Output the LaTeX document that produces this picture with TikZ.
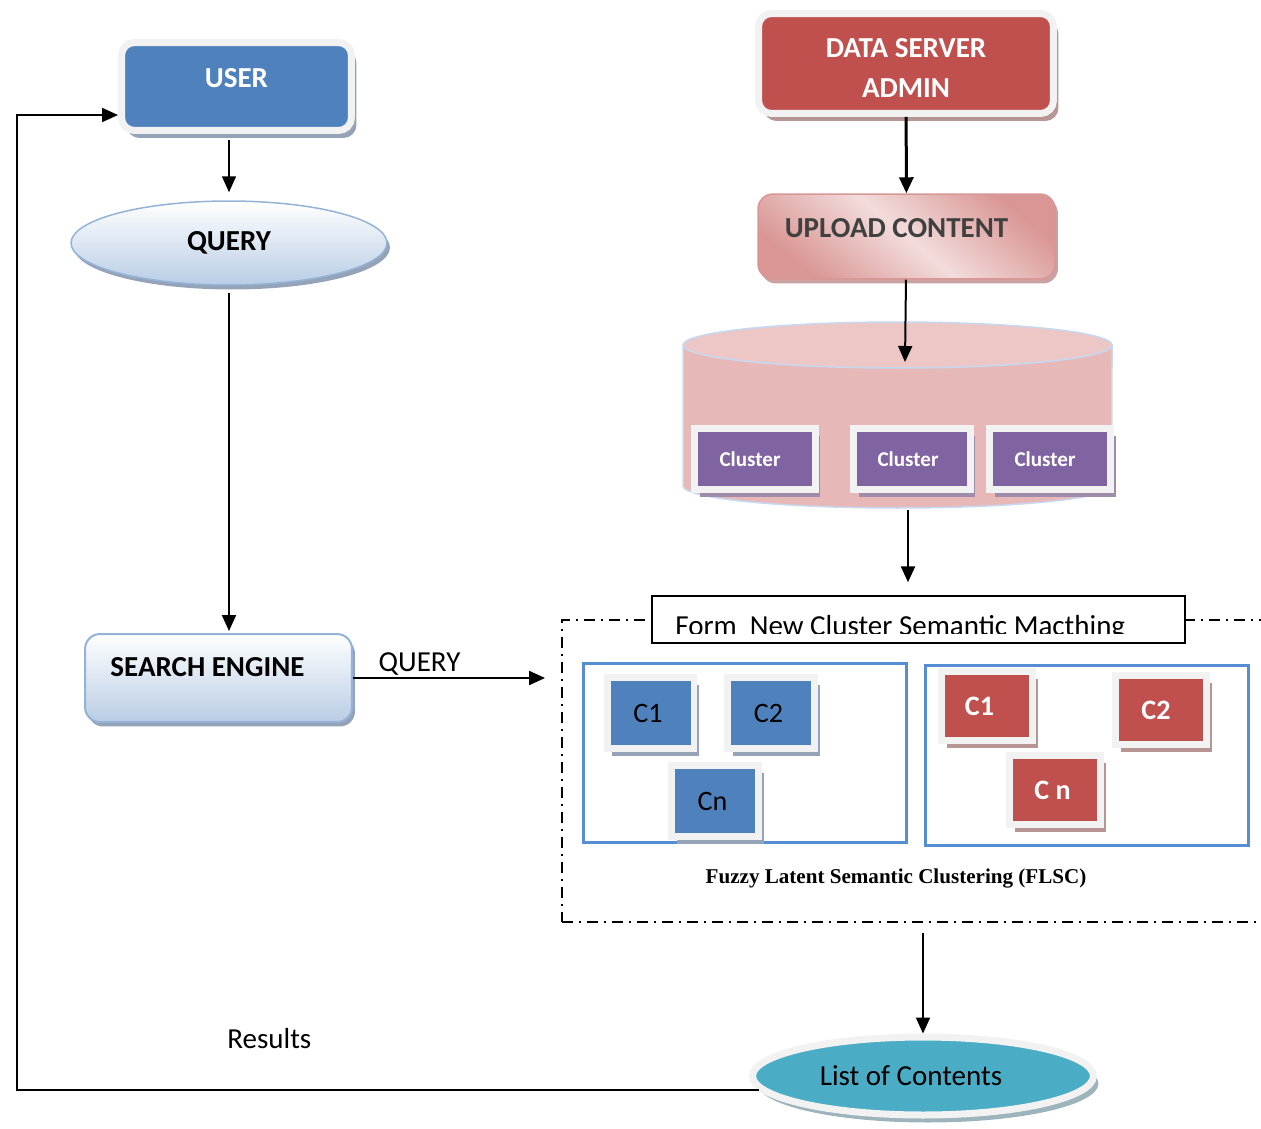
\documentclass[tikz,border=0pt]{standalone}
\usepackage{fontspec}
\setmainfont{Carlito}
\newfontfamily\flscfont{Liberation Serif}
\usetikzlibrary{arrows.meta,shapes.geometric,shadows}
\definecolor{userblue}{HTML}{4F81BD}
\definecolor{framegray}{HTML}{F2F2F2}
\definecolor{blueshadow}{HTML}{95A3B8}
\definecolor{adminred}{HTML}{C0504D}
\definecolor{redshadow}{HTML}{B89595}
\definecolor{softblue}{HTML}{95B3D7}
\definecolor{paleblue}{HTML}{B9CDE5}
\definecolor{listteal}{HTML}{4BACC6}
\definecolor{listshadow}{HTML}{9DB4BD}
\definecolor{clusterpurple}{HTML}{8064A2}
\definecolor{purpleshadow}{HTML}{9E8CAA}
\definecolor{cylside}{HTML}{E6B9B8}
\definecolor{cyltop}{HTML}{ECC7C6}
\definecolor{cylline}{HTML}{C6D9F1}
\definecolor{uploaddark}{HTML}{D99694}
\definecolor{uploadlight}{HTML}{F2DCDB}
\definecolor{uploadshadow}{HTML}{C9A2A1}
\definecolor{groupblue}{HTML}{558ED5}
\definecolor{darktext}{HTML}{404040}
\begin{document}
\begin{tikzpicture}[x=0.02cm,y=-0.02cm,
  font=\fontsize{16.5}{20}\selectfont,
  arr/.style={-{Triangle[length=0.32cm,width=0.28cm]},line width=0.04cm},
  framed/.style={draw=framegray,line width=0.14cm},
  shadowed/.style={drop shadow={shadow xshift=0.1cm,shadow yshift=-0.15cm,fill=#1,opacity=1}},
  softshadow/.style={drop shadow={shadow xshift=0.06cm,shadow yshift=-0.09cm,fill=#1,opacity=1}},
  boldtext/.style={font=\fontsize{16.5}{20}\selectfont\bfseries},
  userbox/.style={framed,shadowed=blueshadow,fill=userblue,rounded corners=0.26cm,text=white,boldtext,minimum width=4.6cm,minimum height=1.76cm,text height=0.37cm,text depth=0.32cm},
  adminbox/.style={framed,shadowed=redshadow,fill=adminred,rounded corners=0.26cm,text=white,font=\fontsize{16.5}{22.8}\selectfont\bfseries,align=center,minimum width=5.9cm,minimum height=2cm},
  queryoval/.style={ellipse,draw=softblue,line width=0.03cm,top color=white,bottom color=paleblue,softshadow=blueshadow,boldtext,minimum width=6.32cm,minimum height=1.68cm},
  enginebox/.style={rounded corners=0.3cm,draw=softblue,line width=0.04cm,top color=white,bottom color=paleblue,softshadow=blueshadow,boldtext,minimum width=5.34cm,minimum height=1.76cm,text height=0.37cm,text depth=0.44cm},
  uploadbox/.style={rounded corners=0.3cm,draw=uploaddark,line width=0.03cm,left color=uploaddark,right color=uploaddark,middle color=uploadlight,shading angle=-40,softshadow=uploadshadow,boldtext,text=darktext,minimum width=5.94cm,minimum height=1.7cm,text height=0.37cm,text depth=0.32cm},
  clusterbox/.style={framed,shadowed=purpleshadow,fill=clusterpurple,text=white,font=\fontsize{12}{14}\selectfont\bfseries,minimum width=2.42cm,minimum height=1.22cm},
  bluecell/.style={framed,shadowed=blueshadow,fill=userblue,text=black,font=\fontsize{16}{19}\selectfont,minimum width=1.74cm,minimum height=1.42cm},
  redcell/.style={framed,shadowed=redshadow,fill=adminred,text=white,font=\fontsize{16}{19}\selectfont\bfseries,minimum width=1.82cm,minimum height=1.38cm},
  groupbox/.style={draw=groupblue,line width=0.06cm,minimum width=6.48cm,minimum height=3.6cm},
  dashframe/.style={draw,line width=0.04cm,dash pattern=on 0.22cm off 0.12cm on 0.04cm off 0.12cm,minimum width=14.06cm,minimum height=6.04cm},
  titlebox/.style={draw,line width=0.03cm,fill=white,minimum width=10.66cm,minimum height=0.94cm},
  listoval/.style={ellipse,framed,shadowed=listshadow,fill=listteal,minimum width=6.82cm,minimum height=1.56cm}]
\useasboundingbox (0,0) rectangle (1261,1129);
\node[userbox] (user) at (236.5,86.5) {USER};
\node[queryoval] (query) at (229,243) {QUERY};
\node[enginebox] (engine) at (218.5,678) {SEARCH ENGINE\hspace*{0.44cm}};
\node[adminbox] (admin) at (906,63.5) {\rule{0pt}{0.57cm}DATA SERVER\\ADMIN};
\node[uploadbox] (upload) at (906.5,236.5) {UPLOAD CONTENT\hspace*{0.4cm}};
\draw[draw=cylline,fill=cylside,line width=0.03cm] (683,345) -- (683,486) arc[start angle=180,end angle=360,x radius=4.29cm,y radius=0.44cm] -- (1112,345) -- cycle;
\draw[draw=cylline,fill=cyltop,line width=0.03cm] (897.5,345) ellipse[x radius=4.29cm,y radius=0.46cm];
\coordinate (dbin) at (905,362);
\coordinate (dbout) at (908,510);
\node[clusterbox] (clustera) at (755,459) {Cluster\hspace*{0.2cm}};
\node[clusterbox,minimum width=2.34cm] (clusterb) at (912,459) {Cluster\hspace*{0.16cm}};
\node[clusterbox] (clusterc) at (1050,459) {Cluster\hspace*{0.2cm}};
\node[dashframe] (flsc) at (913.5,771) {};
\node[titlebox] (form) at (918.5,619.5) {};
\begin{scope}
\clip (form.north west) rectangle (1185,633);
\node[anchor=base west,inner sep=0pt] (formtext) at (675,635) {Form\ \ New Cluster Semantic Macthing};
\end{scope}
\node[groupbox] (blueset) at (745,753) {};
\node[groupbox] (redset) at (1087,755.5) {};
\node[bluecell] (bluea) at (650.5,713) {C1\hspace*{0.1cm}};
\node[bluecell] (blueb) at (771,713) {C2\hspace*{0.1cm}};
\node[bluecell] (bluen) at (715,801) {Cn\hspace*{0.1cm}};
\node[redcell] (reda) at (987,706) {C1\hspace*{0.3cm}};
\node[redcell] (redb) at (1161,710) {C2\hspace*{0.2cm}};
\node[redcell] (redn) at (1055,790) {C n\hspace*{0.1cm}};
\node[font=\flscfont\fontsize{12}{14}\selectfont\bfseries] (flsclabel) at (896,879) {Fuzzy Latent Semantic Clustering (FLSC)};
\node[listoval] (list) at (923,1076) {List of Contents\hspace*{0.48cm}};
\coordinate (loop) at (17,115);
\draw[arr,line width=0.03cm,shorten <=0.12cm,shorten >=0.16cm] (query |- user.south) -- (query.north);
\draw[arr,shorten <=0.14cm,shorten >=0.04cm] (query.south) -- (query.south |- engine.north);
\draw[arr,shorten >=0.32cm] (engine.east) -- (engine.east -| flsc.west) node[pos=0.32,above=0pt,inner sep=1pt] (querylabel) {QUERY};
\draw[arr,line width=0.06cm] (admin) -- (upload);
\draw[arr] (upload) -- (dbin);
\draw[arr,line width=0.05cm,shorten >=0.26cm] (dbout) -- (dbout |- form.north);
\draw[arr,shorten <=0.2cm] (flsc.south -| list) -- (list.north);
\draw[arr] (list.185) -- (loop |- list.185) node[pos=0.66,above=0.7cm] (resultslabel) {Results} -- (loop) -- (loop -| user.west);
\end{tikzpicture}
\end{document}
